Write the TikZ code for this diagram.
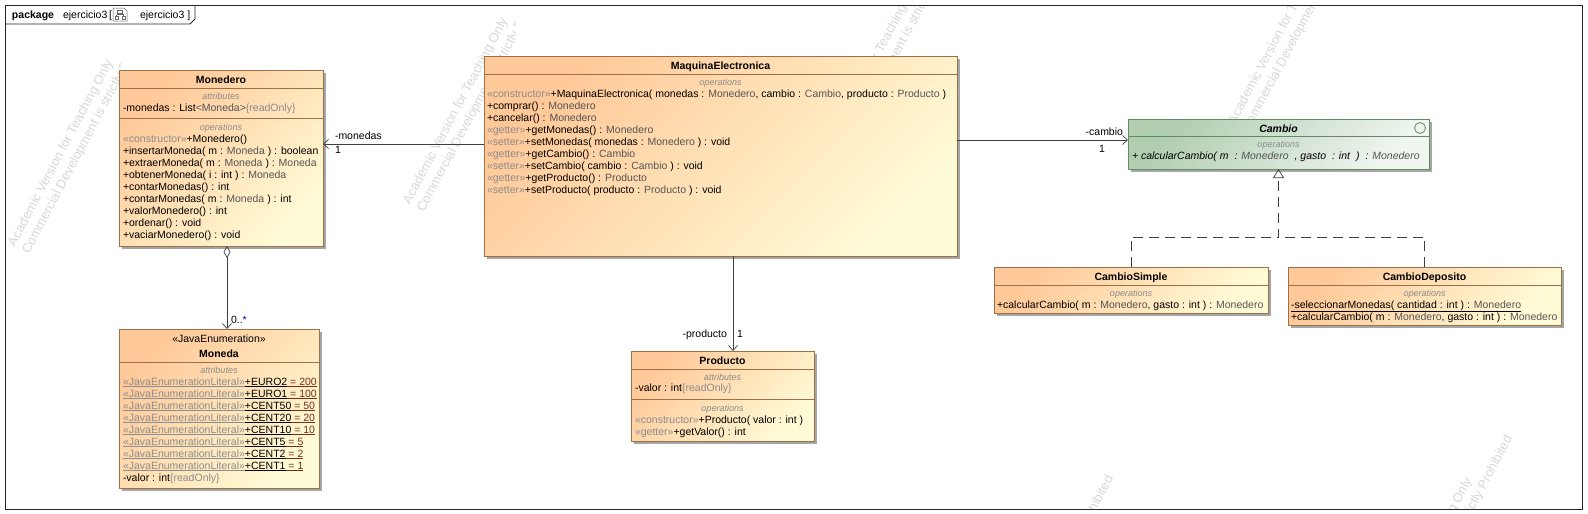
\documentclass[tikz,border=0pt]{standalone}
\usepackage{fontspec}
\setmainfont{Liberation Sans}
\usetikzlibrary{arrows.meta,shadows}

\definecolor{clsfillA}{RGB}{255,200,152}
\definecolor{clsfillB}{RGB}{255,251,214}
\definecolor{clsdraw}{RGB}{158,112,72}
\definecolor{ifcfillA}{RGB}{176,205,176}
\definecolor{ifcfillB}{RGB}{240,245,240}
\definecolor{ifcdraw}{RGB}{96,140,96}
\definecolor{stgray}{RGB}{140,140,140}
\definecolor{tygray}{RGB}{85,85,85}
\definecolor{litred}{RGB}{122,48,20}
\definecolor{wmgray}{RGB}{216,216,216}
\definecolor{linegray}{RGB}{64,64,64}

\newcommand{\itemfont}{\fontsize{10.5}{12}\selectfont}
\newcommand{\compfont}{\fontsize{9}{10}\selectfont\itshape}
\newcommand{\st}[1]{\textcolor{stgray}{#1}}
\newcommand{\ty}[1]{\textcolor{tygray}{#1}}
\newcommand{\gap}{\hspace{6pt}}
\newcommand{\lit}[2]{\st{\underline{«JavaEnumerationLiteral»}}\underline{+#1}\textcolor{litred}{\underline{ = #2}}}
\newcommand{\wmark}[2]{%
  \node[wmtext] at (#1,#2) {Academic Version for Teaching Only};
  \node[wmtext] at (#1+14,#2+7.5) {Commercial Development is strictly Prohibited};}

\begin{document}
\begin{tikzpicture}[x=1pt,y=-1pt,
  every node/.style={inner sep=0pt,outer sep=0pt},
  classbox/.style={draw=clsdraw,line width=0.8pt,top color=clsfillA,bottom color=clsfillB,shading angle=45,
    drop shadow={shadow xshift=3pt,shadow yshift=-3pt,fill=black!35,opacity=1}},
  ifcbox/.style={draw=ifcdraw,line width=0.8pt,top color=ifcfillA,bottom color=ifcfillB,shading angle=45,
    drop shadow={shadow xshift=3pt,shadow yshift=-3pt,fill=black!35,opacity=1}},
  sepline/.style={draw=clsdraw,line width=0.8pt},
  item/.style={anchor=base west,font=\itemfont},
  head/.style={anchor=base,font=\itemfont\bfseries},
  comp/.style={anchor=base,font=\compfont,text=stgray},
  lbl/.style={font=\itemfont},
  wmtext/.style={anchor=base west,rotate=62,font=\fontsize{13}{15}\selectfont,text=wmgray},
  assoc/.style={draw=linegray,line width=0.7pt,-{Straight Barb[length=5pt,width=9pt]}},
  aggr/.style={draw=linegray,line width=0.7pt,{Diamond[open,length=12pt,width=7pt]}-{Straight Barb[length=5pt,width=9pt]}},
  realize/.style={draw=linegray,line width=0.7pt,dash pattern=on 10pt off 6pt},
  gen/.style={realize,-{Triangle[open,length=9pt,width=11pt]}}]

\useasboundingbox (0,0) rectangle (1588,514);
\fill[white] (0,0) rectangle (1588,514);

% watermark
\begin{scope}
  \clip (5,5) rectangle (1582,509);
  \begin{scope}
    \clip (5,5) rectangle (120,509);
    \wmark{15}{247}
  \end{scope}
  \begin{scope}
    \clip (130,5) rectangle (515,509);
    \wmark{410}{205}
  \end{scope}
  \wmark{823}{165}
  \wmark{1235}{125}
  \wmark{577}{745}
  \wmark{975}{705}
  \wmark{1374}{665}
\end{scope}

% package frame
\draw[black!85,line width=0.8pt] (5,5) rectangle (1582,509);
\draw[black!85,line width=0.8pt] (5,24) -- (190,24) -- (195,19) -- (195,5);
\node[item,font=\itemfont\bfseries] at (12,19) {package};
\node[item] at (63,19) {ejercicio3\,[};
\draw[black!60,line width=0.5pt,fill=white] (113,8) -- (124,8) -- (127,11) -- (127,21) -- (113,21) -- cycle;
\draw[black!60,line width=0.5pt] (117.5,10) rectangle (122.5,13) (120,13) -- (120,14.5) (116.5,14.5) -- (123.5,14.5)
  (116.5,14.5) -- (116.5,16) (123.5,14.5) -- (123.5,16) (115,16) rectangle (118,19) (122,16) rectangle (125,19);
\node[item] at (140,19) {ejercicio3 ]};

% Monedero
\node[classbox,minimum width=204pt,minimum height=176pt,anchor=north west] (monedero) at (119,70) {};
\node[head] at (221,83) {Monedero};
\draw[sepline] (monedero.west |- 0,88) -- (monedero.east |- 0,88);
\node[comp] at (221,99) {attributes};
\node[item] at (123,111) {-monedas : List\ty{<Moneda>}\st{\{readOnly\}}};
\draw[sepline] (monedero.west |- 0,118) -- (monedero.east |- 0,118);
\node[comp] at (221,130) {operations};
\foreach \t [count=\i from 0] in {{\st{«constructor»}+Monedero()},
    {+insertarMoneda( m : \ty{Moneda} ) : boolean},
    {+extraerMoneda( m : \ty{Moneda} ) : \ty{Moneda}},
    {+obtenerMoneda( i : int ) : \ty{Moneda}},
    {+contarMonedas() : int},
    {+contarMonedas( m : \ty{Moneda} ) : int},
    {+valorMonedero() : int},
    {+ordenar() : void},
    {+vaciarMonedero() : void}}
  \node[item] at (123,142+12*\i) {\t};

% Moneda
\node[classbox,minimum width=200pt,minimum height=159pt,anchor=north west] (moneda) at (119,329) {};
\node[anchor=base,font=\itemfont] at (219,342) {«JavaEnumeration»};
\node[head] at (219,357) {Moneda};
\draw[sepline] (moneda.west |- 0,362) -- (moneda.east |- 0,362);
\node[comp] at (219,373) {attributes};
\foreach \n/\v [count=\i from 0] in {EURO2/200,EURO1/100,CENT50/50,CENT20/20,CENT10/10,CENT5/5,CENT2/2,CENT1/1}
  \node[item] at (123,385+12*\i) {\lit{\n}{\v}};
\node[item] at (123,481) {-valor : int\st{\{readOnly\}}};

% MaquinaElectronica
\node[classbox,minimum width=473pt,minimum height=200pt,anchor=north west] (maquina) at (484,56) {};
\node[head] at (720.5,69) {MaquinaElectronica};
\draw[sepline] (maquina.west |- 0,74) -- (maquina.east |- 0,74);
\node[comp] at (720.5,85) {operations};
\foreach \t [count=\i from 0] in {{\st{«constructor»}+MaquinaElectronica( monedas : \ty{Monedero}, cambio : \ty{Cambio}, producto : \ty{Producto} )},
    {+comprar() : \ty{Monedero}},
    {+cancelar() : \ty{Monedero}},
    {\st{«getter»}+getMonedas() : \ty{Monedero}},
    {\st{«setter»}+setMonedas( monedas : \ty{Monedero} ) : void},
    {\st{«getter»}+getCambio() : \ty{Cambio}},
    {\st{«setter»}+setCambio( cambio : \ty{Cambio} ) : void},
    {\st{«getter»}+getProducto() : \ty{Producto}},
    {\st{«setter»}+setProducto( producto : \ty{Producto} ) : void}}
  \node[item] at (487,97+12*\i) {\t};

% Producto
\node[classbox,minimum width=183pt,minimum height=90pt,anchor=north west] (producto) at (631,351) {};
\node[head] at (722.5,364) {Producto};
\draw[sepline] (producto.west |- 0,369) -- (producto.east |- 0,369);
\node[comp] at (722.5,380) {attributes};
\node[item] at (635,391) {-valor : int\st{\{readOnly\}}};
\draw[sepline] (producto.west |- 0,399) -- (producto.east |- 0,399);
\node[comp] at (722.5,411) {operations};
\node[item] at (635,423) {\st{«constructor»}+Producto( valor : int )};
\node[item] at (635,435) {\st{«getter»}+getValor() : int};

% Cambio
\node[ifcbox,minimum width=301pt,minimum height=50pt,anchor=north west] (cambio) at (1128,119) {};
\node[head,font=\itemfont\bfseries\itshape] at (1278.5,132) {Cambio};
\draw[ifcdraw,line width=0.8pt,fill=ifcfillB] (1420,128) circle[radius=5.5pt];
\draw[ifcdraw,line width=0.8pt] (cambio.west |- 0,136) -- (cambio.east |- 0,136);
\node[comp] at (1278.5,147) {operations};
\node[item,font=\itemfont\itshape] at (1132,159) {+ calcularCambio( m\gap : \ty{Monedero}\gap, gasto\gap : int\gap )\gap : \ty{Monedero}};

% CambioSimple
\node[classbox,minimum width=274pt,minimum height=46pt,anchor=north west] (csimple) at (994,267) {};
\node[head] at (1131,280) {CambioSimple};
\draw[sepline] (csimple.west |- 0,285) -- (csimple.east |- 0,285);
\node[comp] at (1131,296) {operations};
\node[item] at (997,308) {+calcularCambio( m : \ty{Monedero}, gasto : int ) : \ty{Monedero}};

% CambioDeposito
\node[classbox,minimum width=273pt,minimum height=58pt,anchor=north west] (cdeposito) at (1288,267) {};
\node[head] at (1424.5,280) {CambioDeposito};
\draw[sepline] (cdeposito.west |- 0,285) -- (cdeposito.east |- 0,285);
\node[comp] at (1424.5,296) {operations};
\node[item] at (1291,308) {\underline{-seleccionarMonedas( cantidad : int ) : \ty{Monedero}}};
\node[item] at (1291,320) {+calcularCambio( m : \ty{Monedero}, gasto : int ) : \ty{Monedero}};

% connectors
\draw[assoc] (maquina.west |- 0,144) -- (monedero.east |- 0,144);
\node[lbl,anchor=base west] at (335,139.5) {-monedas};
\node[lbl,anchor=base west] at (335,153.5) {1};

\draw[assoc] (maquina.east |- 0,140) -- (cambio.west |- 0,140);
\node[lbl,anchor=base east] at (1123,135.5) {-cambio};
\node[lbl,anchor=base] at (1102,152.5) {1};

\draw[assoc] (maquina.south -| 733,0) -- (producto.north -| 733,0);
\node[lbl,anchor=base east] at (727,337.5) {-producto};
\node[lbl,anchor=base west] at (737,337.5) {1};

\draw[aggr] (monedero.south -| 227,0) -- (moneda.north -| 227,0);
\node[lbl,anchor=base west] at (231,323.5) {0..\textcolor{blue!70!black}{*}};

\draw[gen] (csimple.north) |- (cambio.south |- 0,237) -- (cambio.south);
\draw[realize] (cdeposito.north) |- (cambio.south |- 0,237);

\end{tikzpicture}
\end{document}
